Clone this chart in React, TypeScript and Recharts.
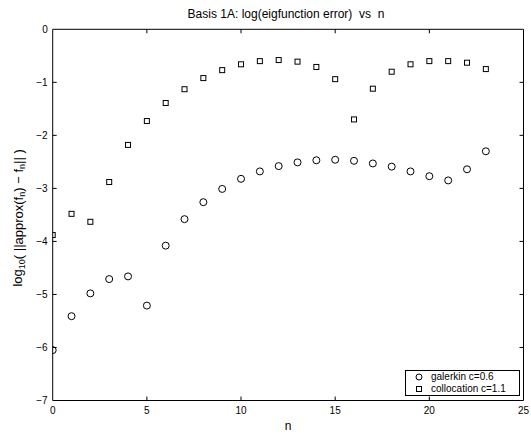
// Scatter of log10 eigenfunction error vs n for two methods (MATLAB-style figure).
// Open markers, boxed axes with inward ticks, small boxed legend bottom-right.

import { ScatterChart, Scatter, XAxis, YAxis, ReferenceLine, Legend, Label } from 'recharts'

const nValues = [0, 1, 2, 3, 4, 5, 6, 7, 8, 9, 10, 11, 12, 13, 14, 15, 16, 17, 18, 19, 20, 21, 22, 23]
const galerkin = [
  -6.05, -5.41, -4.98, -4.71, -4.66, -5.21, -4.08, -3.58, -3.26, -3.01, -2.82, -2.68,
  -2.58, -2.51, -2.47, -2.46, -2.48, -2.53, -2.59, -2.68, -2.77, -2.85, -2.64, -2.3,
]
const collocation = [
  -3.88, -3.48, -3.63, -2.88, -2.18, -1.73, -1.39, -1.13, -0.92, -0.77, -0.66, -0.6,
  -0.58, -0.61, -0.71, -0.94, -1.7, -1.12, -0.8, -0.66, -0.6, -0.6, -0.63, -0.75,
]
const xTicks = [0, 5, 10, 15, 20, 25]
const yTicks = [-7, -6, -5, -4, -3, -2, -1, 0]
const seriesNames = ['galerkin c=0.6', 'collocation c=1.1']

const FONT = '"Liberation Sans", Arial, Helvetica, sans-serif'
const W = 531
const H = 435
// inward tick length, in data units (about 4px on each axis)
const TX = 0.21
const TY = 0.075
const SP = '\u00A0'

const galerkinData = nValues.map((n, i) => ({ n, v: galerkin[i] }))
const collocationData = nValues.map((n, i) => ({ n, v: collocation[i] }))

const fmt = (v: number) => String(v).replace('-', '\u2212')

function CircleMark(props: any) {
  return <circle cx={props.cx} cy={props.cy} r={3.5} fill="none" stroke="#000" strokeWidth={1} />
}

function SquareMark(props: any) {
  return (
    <rect x={props.cx - 2.5} y={props.cy - 2.5} width={5} height={5} fill="none" stroke="#000" strokeWidth={1} />
  )
}

function YLabel({ viewBox }: any) {
  const cx = viewBox.x + 18
  const cy = viewBox.y + viewBox.height / 2 + 3
  return (
    <text
      x={cx}
      y={cy}
      transform={`rotate(-90 ${cx} ${cy})`}
      textAnchor="middle"
      dominantBaseline="central"
      fontSize={13}
      fontFamily={FONT}
      fill="#000"
    >
      log
      <tspan fontSize={9} dy={4}>10</tspan>
      <tspan dy={-4}>{`(${SP}||approx(f`}</tspan>
      <tspan fontSize={9} dy={4}>n</tspan>
      <tspan dy={-4}>{`)${SP}\u2212${SP}f`}</tspan>
      <tspan fontSize={9} dy={4}>n</tspan>
      <tspan dy={-4}>{`||${SP})`}</tspan>
    </text>
  )
}

function XLabel({ viewBox }: any) {
  return (
    <text x={viewBox.x + viewBox.width / 2} y={430} textAnchor="middle" fontSize={12} fontFamily={FONT} fill="#000">
      n
    </text>
  )
}

function LegendBox() {
  const row = { display: 'flex', alignItems: 'center', height: 12 }
  return (
    <div
      style={{
        border: '1px solid #000',
        background: '#fff',
        boxSizing: 'border-box',
        width: 115,
        height: 26,
        padding: '0px 0 0 8px',
        fontFamily: FONT,
        fontSize: 10,
        lineHeight: '12px',
      }}
    >
      {seriesNames.map((name, i) => (
        <div key={name} style={row}>
          <svg width={10} height={10} style={{ marginRight: 7 }}>
            {i === 0 ? (
              <circle cx={5} cy={5} r={3} fill="none" stroke="#000" />
            ) : (
              <rect x={2.5} y={2.5} width={5} height={5} fill="none" stroke="#000" />
            )}
          </svg>
          <span>{name}</span>
        </div>
      ))}
    </div>
  )
}

export default function App() {
  return (
    <div style={{ position: 'absolute', left: 0, top: 0, width: W, height: H, background: '#fff' }}>
      <div
        style={{
          position: 'absolute',
          left: 0,
          width: 572,
          top: 7,
          textAlign: 'center',
          fontFamily: FONT,
          fontSize: 12,
          whiteSpace: 'pre',
        }}
      >
        {'Basis 1A: log(eigfunction error)  vs  n'}
      </div>
      <ScatterChart width={W} height={H} margin={{ top: 29.3, right: 7.5, bottom: 0, left: 0 }}>
        <XAxis
          dataKey="n"
          type="number"
          domain={[0, 25]}
          ticks={xTicks}
          allowDataOverflow
          tickLine={false}
          tickSize={0}
          tickMargin={6}
          height={34.5}
          axisLine={{ stroke: '#000', strokeWidth: 1 }}
          tick={{ fill: '#000', fontSize: 10, fontFamily: FONT }}
        >
          <Label content={XLabel} />
        </XAxis>
        <YAxis
          dataKey="v"
          type="number"
          domain={[-7, 0]}
          ticks={yTicks}
          allowDataOverflow
          tickLine={false}
          tickSize={0}
          tickMargin={5}
          width={52.7}
          tickFormatter={fmt}
          axisLine={{ stroke: '#000', strokeWidth: 1 }}
          tick={{ fill: '#000', fontSize: 10, fontFamily: FONT }}
        >
          <Label content={YLabel} />
        </YAxis>
        {/* box: top and right edges */}
        <ReferenceLine y={0} stroke="#000" strokeWidth={1} />
        <ReferenceLine x={25} stroke="#000" strokeWidth={1} />
        {/* inward ticks on all four sides */}
        {xTicks.slice(1, -1).map((t) => (
          <ReferenceLine key={'b' + t} segment={[{ x: t, y: -7 }, { x: t, y: -7 + TY }]} stroke="#000" />
        ))}
        {xTicks.slice(1, -1).map((t) => (
          <ReferenceLine key={'t' + t} segment={[{ x: t, y: 0 }, { x: t, y: -TY }]} stroke="#000" />
        ))}
        {yTicks.slice(1, -1).map((t) => (
          <ReferenceLine key={'l' + t} segment={[{ x: 0, y: t }, { x: TX, y: t }]} stroke="#000" />
        ))}
        {yTicks.slice(1, -1).map((t) => (
          <ReferenceLine key={'r' + t} segment={[{ x: 25, y: t }, { x: 25 - TX, y: t }]} stroke="#000" />
        ))}
        <Scatter name={seriesNames[0]} data={galerkinData} shape={CircleMark} isAnimationActive={false} />
        <Scatter name={seriesNames[1]} data={collocationData} shape={SquareMark} isAnimationActive={false} />
        <Legend
          layout="vertical"
          align="center"
          verticalAlign="middle"
          wrapperStyle={{ left: 405, top: 370, width: 115, height: 26 }}
          content={() => <LegendBox />}
        />
      </ScatterChart>
    </div>
  )
}
